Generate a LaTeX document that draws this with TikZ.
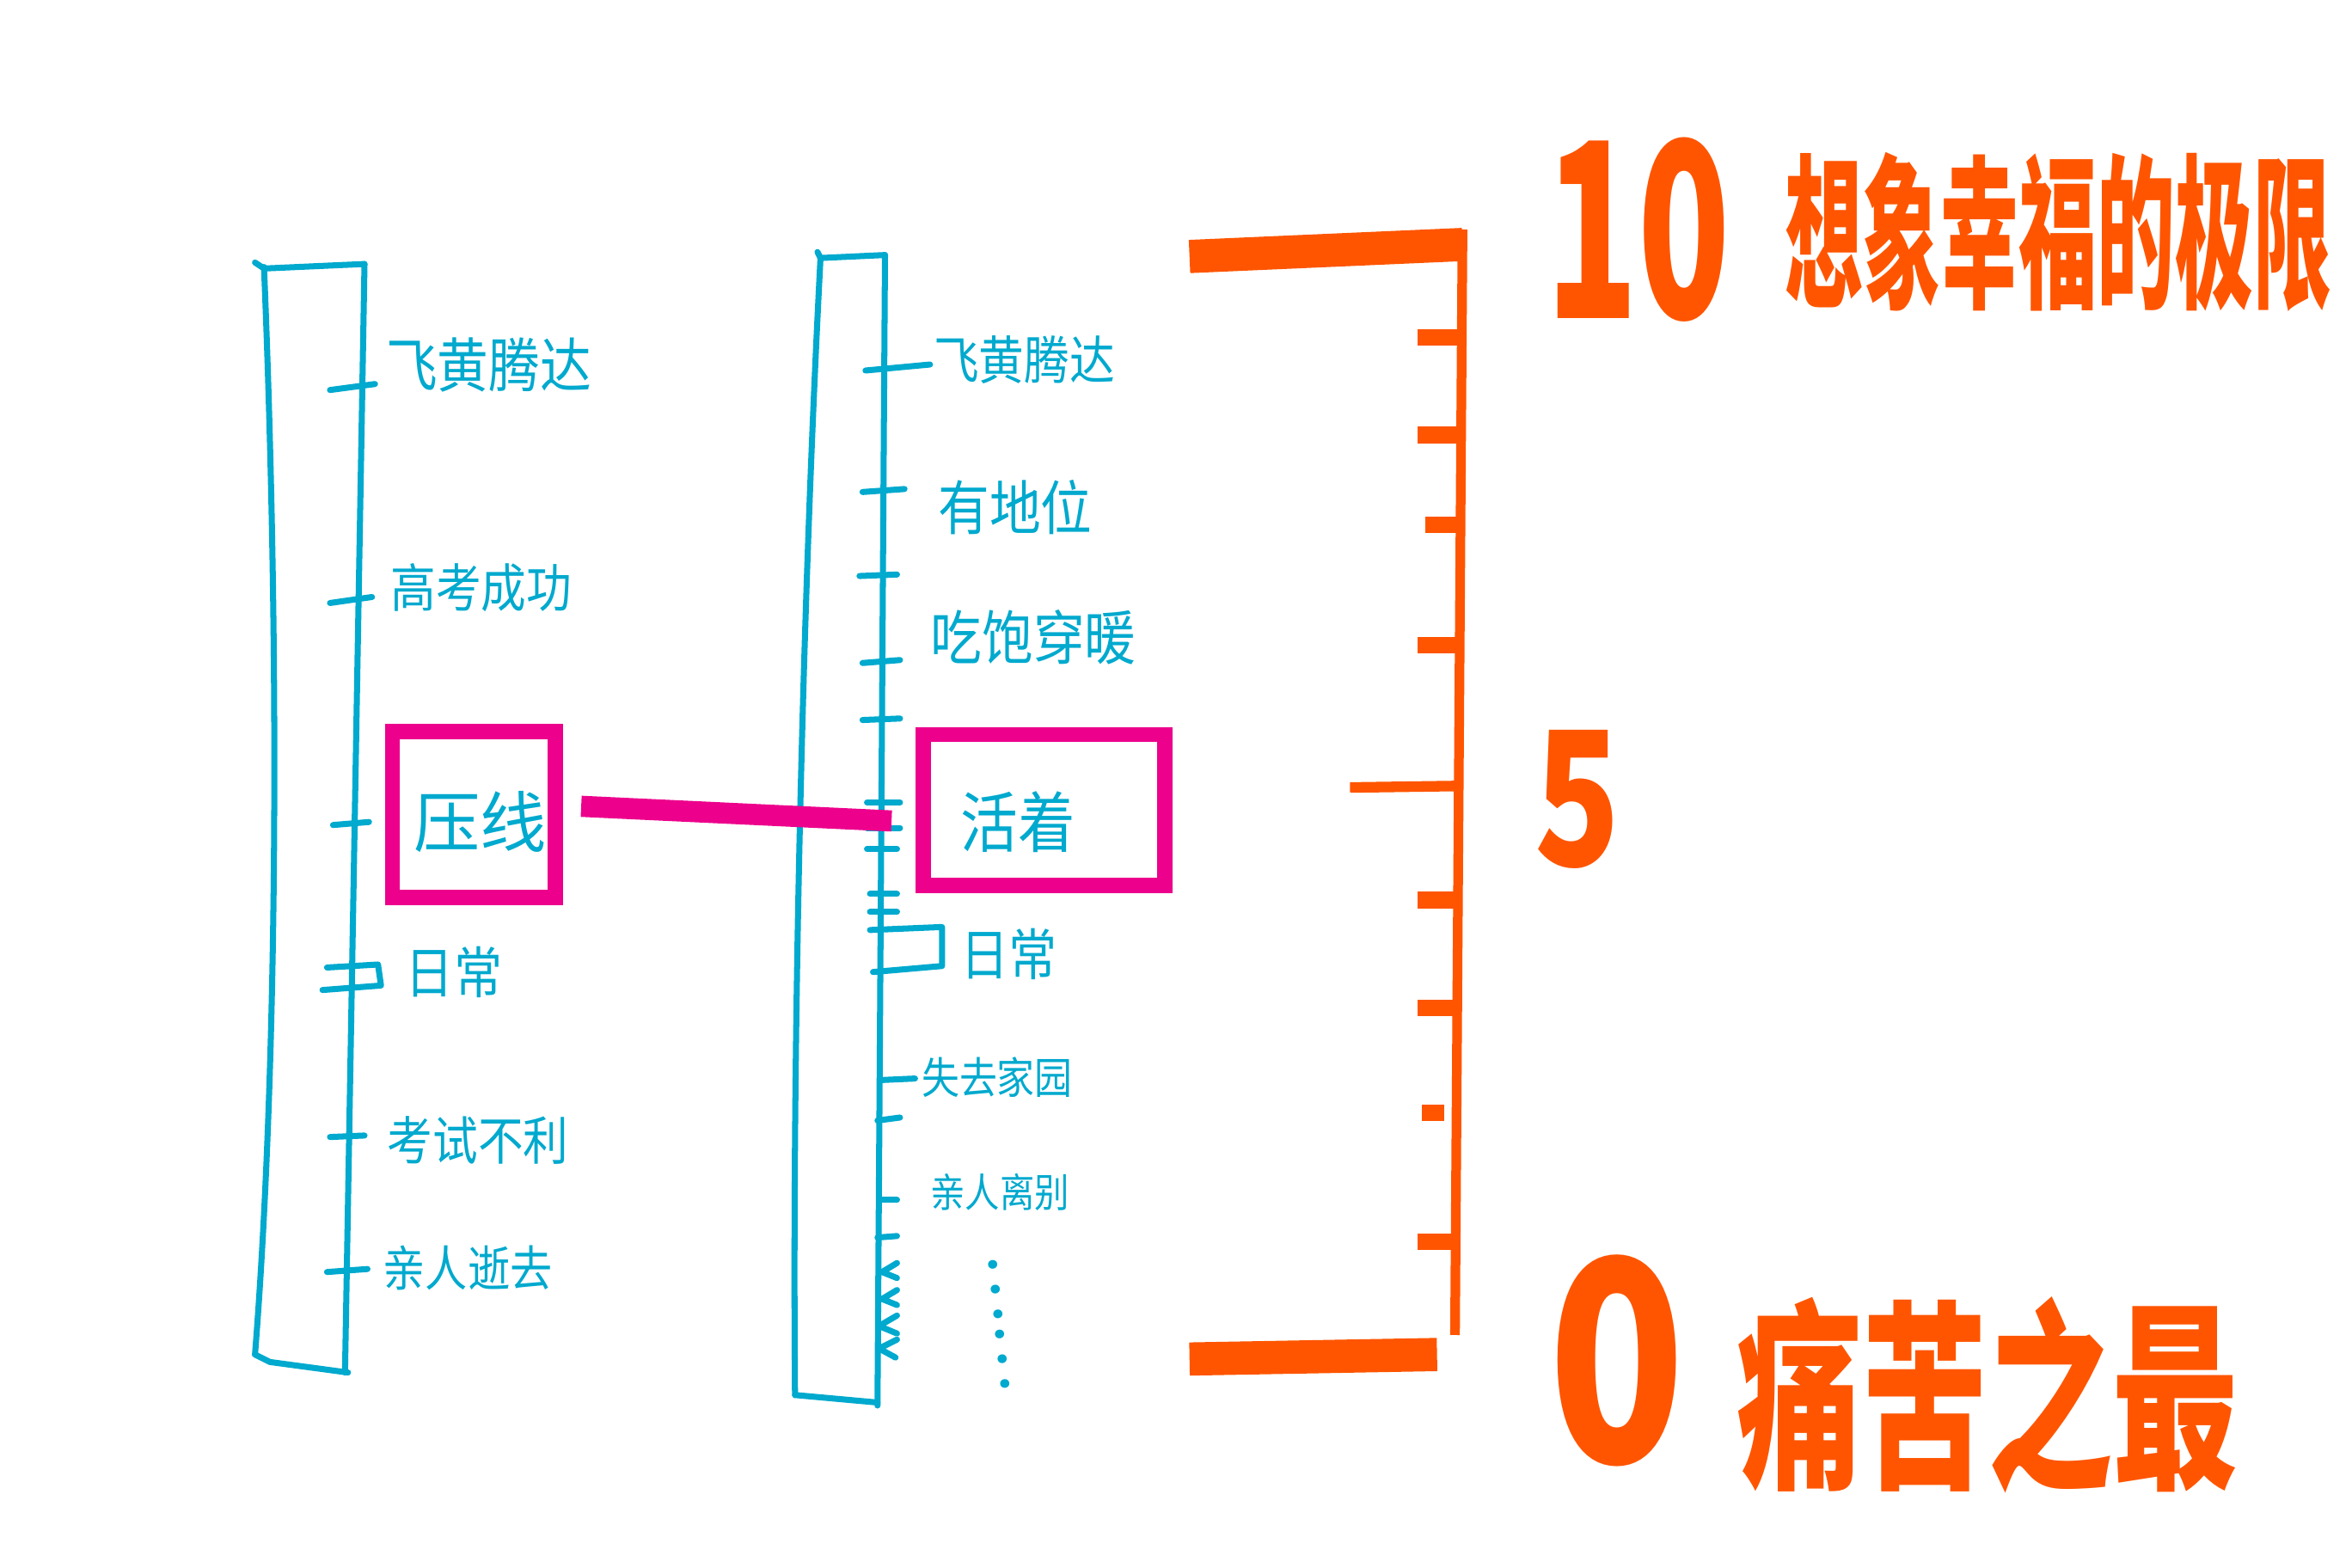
\documentclass[tikz,border=0pt]{standalone}
\usepackage{fontspec}
\newfontfamily\cjk{Noto Sans CJK SC}
\newcommand\fsz[1]{\fontsize{#1}{#1}\selectfont}
\definecolor{cblue}{HTML}{00A9CE}
\definecolor{cpink}{HTML}{EC008C}
\definecolor{corange}{HTML}{FF5500}
\begin{document}
\begin{tikzpicture}[x=0.017449cm, y=-0.017449cm,
  bl/.style={cblue, line width=2pt, line cap=round, line join=round},
  tk/.style={cblue, line width=2pt, line cap=round, line join=round},
  pbox/.style={draw=cpink, line width=5pt, inner sep=0pt},
  plink/.style={cpink, line width=7pt},
  obar/.style={corange, line width=11pt},
  oline/.style={corange, line width=3.2pt},
  otick/.style={corange, line width=5.5pt},
  blab/.style={text=cblue, anchor=west, inner sep=0pt},
  olab/.style={text=corange, inner sep=0pt}]
\useasboundingbox (0,0) rectangle (1568,1045);

% ---------- left scale ----------
\draw[bl] (243,176) -- (230,915);
\draw[bl] (176,178) .. controls (186,420) and (186,700) .. (170,903);
\draw[bl] (170,175) -- (176,179) -- (243,176);
\draw[bl] (170,903) -- (180,908) -- (232,915);
\draw[tk] (220,260) -- (250,256);
\draw[tk] (220,402) -- (248,398);
\draw[tk] (222,550) -- (246,548);
\draw[tk] (218,645) -- (252,643) -- (254,657) -- (215,660);
\draw[tk] (220,758) -- (243,757);
\draw[tk] (218,848) -- (245,846);

\node[blab, yscale=1.15, font=\cjk\fsz{17}] (l1) at (257,243) {飞黄腾达};
\node[blab, yscale=1.15, font=\cjk\fsz{15}] (l2) at (260,392) {高考成功};
\node[pbox, minimum width=54pt, minimum height=55pt] (ybox) at (316,543) {};
\node[blab, anchor=center, font=\cjk\fsz{22}] (l3) at (320,548) {压线};
\node[blab, yscale=1.15, font=\cjk\fsz{16}] (l4) at (270,648) {日常};
\node[blab, yscale=1.15, font=\cjk\fsz{15}] (l5) at (258,760) {考试不利};
\node[blab, yscale=1.15, font=\cjk\fsz{14}] (l6) at (255,845) {亲人逝去};

% ---------- right scale ----------
\draw[bl] (590,170) -- (585,937);
\draw[bl] (547,172) .. controls (535,400) and (528,700) .. (530,930);
\draw[bl] (545,168) -- (547,172) -- (590,170);
\draw[bl] (530,930) -- (585,935);
\draw[tk] (577,247) -- (620,243);
\draw[tk] (575,328) -- (603,326);
\draw[tk] (573,384) -- (598,383);
\draw[tk] (575,442) -- (600,440);
\draw[tk] (575,480) -- (600,479);
\draw[tk] (578,535) -- (600,535);
\draw[tk] (578,552) -- (600,552);
\draw[tk] (578,566) -- (598,566);
\draw[tk] (580,596) -- (598,596);
\draw[tk] (580,608) -- (598,608);
\draw[tk] (580,620) -- (628,618) -- (628,644) -- (582,648);
\draw[tk] (588,720) -- (610,719);
\draw[tk] (585,747) -- (600,745);
\draw[tk] (588,800) -- (598,800);
\draw[tk] (585,825) -- (598,824);
\draw[tk] (598,842) -- (588,848) -- (598,852);
\draw[tk] (598,860) -- (588,866) -- (598,870);
\draw[tk] (598,877) -- (586,884) -- (598,889);
\draw[tk] (598,893) -- (586,899) -- (597,905);

\node[blab, yscale=1.15, font=\cjk\fsz{15}] (r1) at (622,240) {飞黄腾达};
\node[blab, yscale=1.15, font=\cjk\fsz{17}] (r2) at (625,338) {有地位};
\node[blab, yscale=1.15, font=\cjk\fsz{17}] (r3) at (620,425) {吃饱穿暖};
\node[pbox, minimum width=80pt, minimum height=50pt] (hbox) at (696,540) {};
\node[blab, yscale=1.15, font=\cjk\fsz{19}] (r4) at (640,548) {活着};
\node[blab, yscale=1.15, font=\cjk\fsz{16}] (r5) at (640,636) {日常};
\node[blab, yscale=1.15, font=\cjk\fsz{12.5}] (r6) at (614,718) {失去家园};
\node[blab, yscale=1.15, font=\cjk\fsz{11.5}] (r7) at (620,795) {亲人离别};
\node[blab, anchor=center, rotate=-84, font=\cjk\fsz{22}] (dots) at (666,882) {……};

\draw[plink, shorten <=6pt, shorten >=8pt] ([yshift=3pt]ybox.east) -- ([yshift=-4pt]hbox.west);

% ---------- orange ruler ----------
\draw[obar] (793,171) -- (975,163);
\draw[oline] (975,153) -- (970,890);
\draw[otick] (945,225) -- (973,225);
\draw[otick] (945,290) -- (972,290);
\draw[otick] (950,350) -- (972,350);
\draw[otick] (945,430) -- (971,430);
\draw[corange, line width=3.5pt] (900,525) -- (970,524);
\draw[otick] (945,600) -- (970,600);
\draw[otick] (945,672) -- (970,672);
\draw[otick] (948,742) -- (963,742);
\draw[otick] (945,828) -- (968,828);
\draw[obar] (793,906) -- (958,903);

\node[olab, xscale=0.62, font=\cjk\bfseries\fsz{81}] (ten) at (1092,153) {10};
\node[olab, xscale=0.47, font=\cjk\bfseries\fsz{55}] (top) at (1372,155) {想象幸福的极限};
\node[olab, xscale=0.75, font=\cjk\bfseries\fsz{62}] (five) at (1052,533) {5};
\node[olab, xscale=0.8, font=\cjk\bfseries\fsz{93}] (zero) at (1078,907) {0};
\node[olab, xscale=0.62, font=\cjk\bfseries\fsz{67}] (bot) at (1325,930) {痛苦之最};
\end{tikzpicture}
\end{document}
